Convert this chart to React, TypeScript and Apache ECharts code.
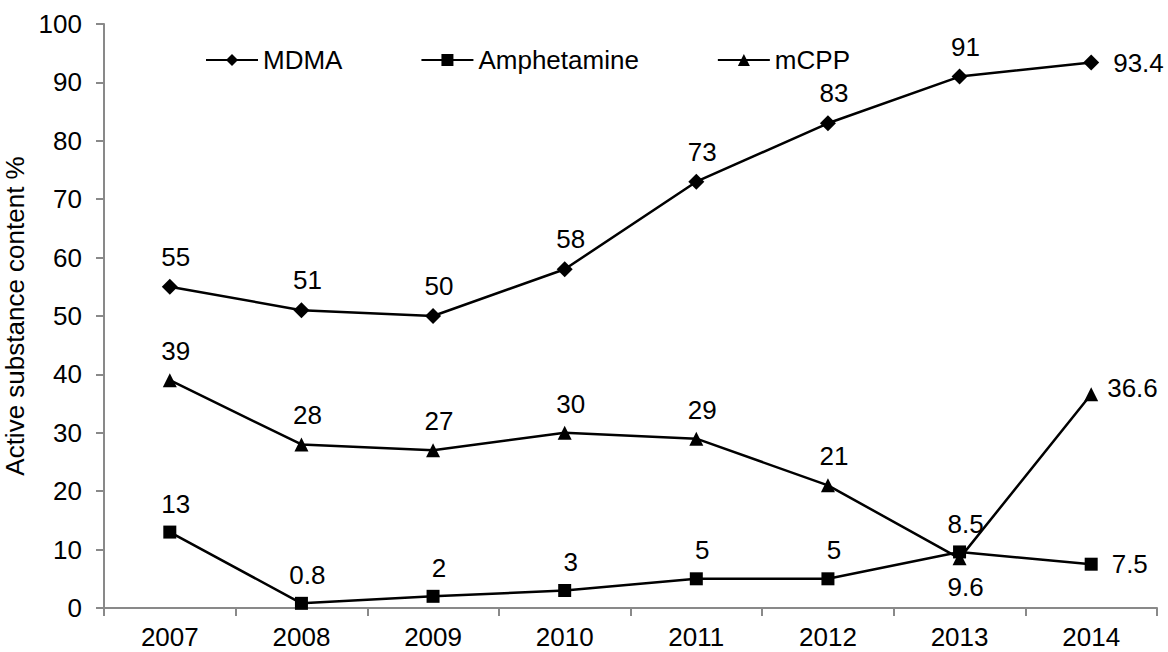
import React, { useEffect, useRef } from "react";
import * as echarts from "echarts";

const years = ["2007", "2008", "2009", "2010", "2011", "2012", "2013", "2014"];
const mdma = [55, 51, 50, 58, 73, 83, 91, 93.4];
const amphetamine = [13, 0.8, 2, 3, 5, 5, 9.6, 7.5];
const mcpp = [39, 28, 27, 30, 29, 21, 8.5, 36.6];

const FONT = "'Liberation Sans', Arial, sans-serif";
const FS = 26;

function buildData(values: number[], name: string) {
  return values.map((v, i) => {
    const last = i === values.length - 1;
    let label: any = { position: "top", distance: 9, offset: [6, 0] };
    if (last) {
      label = { position: "right", distance: name === "mCPP" ? 9 : 14, offset: [0, name === "mCPP" ? -6 : 0] };
    }
    if (name === "Amphetamine" && i === 6) {
      label = { position: "bottom", distance: 16, offset: [6, 0] };
    }
    if (name === "mCPP" && i === 6) {
      label = { position: "top", distance: 14, offset: [6, 0] };
    }
    return { value: v, label };
  });
}

export default function App() {
  const ref = useRef<HTMLDivElement>(null);
  useEffect(() => {
    if (!ref.current) return;
    const chart = echarts.init(ref.current, null, { renderer: "svg" });
    const mk = (name: string, values: number[], symbol: string, size: number) => ({
      name,
      type: "line",
      data: buildData(values, name),
      symbol,
      symbolSize: size,
      lineStyle: { color: "#000", width: 2.5 },
      itemStyle: { color: "#000" },
      label: {
        show: true,
        color: "#000",
        fontSize: FS,
        fontFamily: FONT,
      },
    });
    chart.setOption({
      animation: false,
      backgroundColor: "#fff",
      textStyle: { fontFamily: FONT },
      grid: { left: 104, right: 11, top: 24, bottom: 44, containLabel: false, outerBoundsMode: "none" },
      legend: {
        left: 200,
        top: 42,
        itemWidth: 52,
        itemHeight: 15,
        itemGap: 78,
        textStyle: { fontSize: FS, color: "#000", fontFamily: FONT },
        data: ["MDMA", "Amphetamine", "mCPP"],
      },
      xAxis: {
        type: "category",
        data: years,
        boundaryGap: true,
        axisLine: { lineStyle: { color: "#898989", width: 2 } },
        axisTick: { show: true, length: 8, lineStyle: { color: "#898989", width: 2 } },
        axisLabel: { color: "#000", fontSize: FS, fontFamily: FONT, margin: 16 },
        splitLine: { show: false },
      },
      yAxis: {
        type: "value",
        min: 0,
        max: 100,
        interval: 10,
        name: "Active substance content %",
        nameLocation: "middle",
        nameGap: 73,
        nameTextStyle: { color: "#000", fontSize: FS, fontFamily: FONT },
        axisLine: { show: true, lineStyle: { color: "#898989", width: 2 } },
        axisTick: { show: true, length: 8, lineStyle: { color: "#898989", width: 2 } },
        axisLabel: { color: "#000", fontSize: FS, fontFamily: FONT, margin: 22 },
        splitLine: { show: false },
      },
      series: [
        mk("MDMA", mdma, "diamond", 16),
        mk("Amphetamine", amphetamine, "rect", 13),
        mk("mCPP", mcpp, "triangle", 14),
      ],
    });
    return () => chart.dispose();
  }, []);
  return (
    <div
      ref={ref}
      style={{ position: "fixed", left: 0, top: 0, width: 1168, height: 652, background: "#fff" }}
    />
  );
}
